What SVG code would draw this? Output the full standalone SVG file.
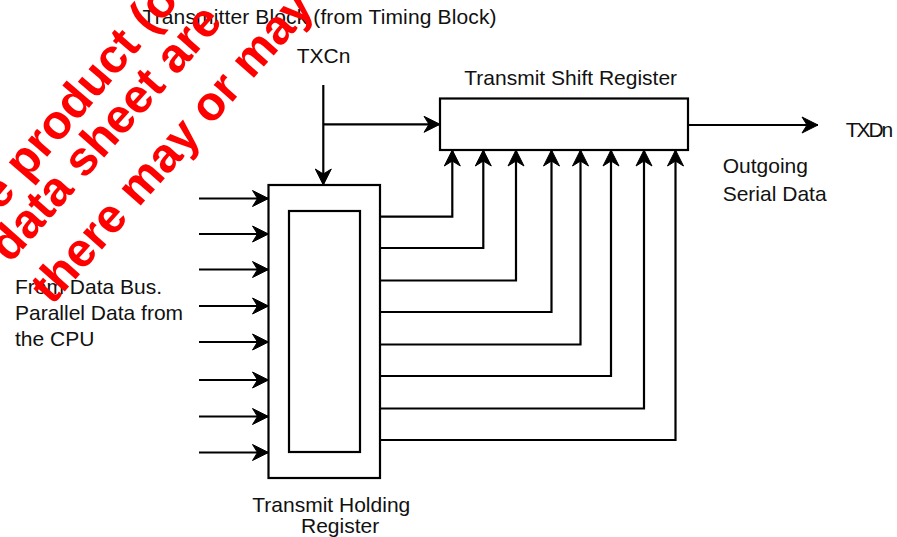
<svg xmlns="http://www.w3.org/2000/svg" width="897" height="537" viewBox="0 0 897 537">
<defs>
<marker id="arr" viewBox="-17 -10 19 20" refX="0" refY="0" markerWidth="19" markerHeight="20" markerUnits="userSpaceOnUse" orient="auto">
<path d="M0,0 L-16,-8 L-11,0 L-16,8 Z" fill="#000" stroke="#000" stroke-width="1" stroke-linejoin="miter"/>
</marker>
</defs>
<style>
.t{font-family:"Liberation Sans",Arial,sans-serif;font-size:21px;fill:#111}
.box{fill:#fff;stroke:#000;stroke-width:2.2}
.ln{fill:none;stroke:#000;stroke-width:2.2}
.ar{marker-end:url(#arr)}
.wm{font-family:"Liberation Sans",Arial,sans-serif;font-weight:bold;font-size:48px;fill:#ff0000}
</style>
<rect width="897" height="537" fill="#fff"/>

<g id="thr">
<rect class="box" x="268.5" y="185" width="111.5" height="293"/>
<rect class="box" x="289" y="211" width="71" height="241"/>
<text class="t" x="252.3" y="512">Transmit Holding</text>
<text class="t" x="301" y="533">Register</text>
</g>

<g id="tsr">
<rect class="box" x="440" y="98.5" width="248" height="51.5"/>
<text class="t" x="464.3" y="85">Transmit Shift Register</text>
</g>

<g id="labels">
<text class="t" x="142.5" y="24" textLength="354">Transmitter Block (from Timing Block)</text>
<text class="t" x="296.7" y="62.5">TXCn</text>
<text class="t" x="845.7" y="137" textLength="47.5">TXDn</text>
<text class="t" x="722.7" y="173">Outgoing</text>
<text class="t" x="722.7" y="201">Serial Data</text>
<text class="t" x="15" y="293.5">From Data Bus.</text>
<text class="t" x="15" y="320">Parallel Data from</text>
<text class="t" x="15" y="346">the CPU</text>
</g>

<g id="connectors">
<path class="ln ar" d="M323.3,85 V185"/>
<path class="ln ar" d="M323.3,124.3 H440"/>
<path class="ln ar" d="M688,125 H818"/>
<path class="ln ar" d="M199,198.5 H268.5"/>
<path class="ln ar" d="M199,234 H268.5"/>
<path class="ln ar" d="M199,269.5 H268.5"/>
<path class="ln ar" d="M199,306 H268.5"/>
<path class="ln ar" d="M199,342 H268.5"/>
<path class="ln ar" d="M199,380 H268.5"/>
<path class="ln ar" d="M199,416.5 H268.5"/>
<path class="ln ar" d="M199,452.5 H268.5"/>
<path class="ln ar" d="M380,216.7 H452.3 V150"/>
<path class="ln ar" d="M380,248 H483.3 V150"/>
<path class="ln ar" d="M380,280.5 H516 V150"/>
<path class="ln ar" d="M380,312 H551.5 V150"/>
<path class="ln ar" d="M380,344.5 H580.5 V150"/>
<path class="ln ar" d="M380,376 H611 V150"/>
<path class="ln ar" d="M380,408.5 H644 V150"/>
<path class="ln ar" d="M380,440 H675.5 V150"/>
</g>

<g id="watermark">
<text class="wm" transform="translate(0,212) rotate(-49.5)">e product (o</text>
<text class="wm" transform="translate(10,264) rotate(-48.5)">data sheet are</text>
<text class="wm" transform="translate(52,306) rotate(-48.5)">there may or may</text>
</g>
</svg>
